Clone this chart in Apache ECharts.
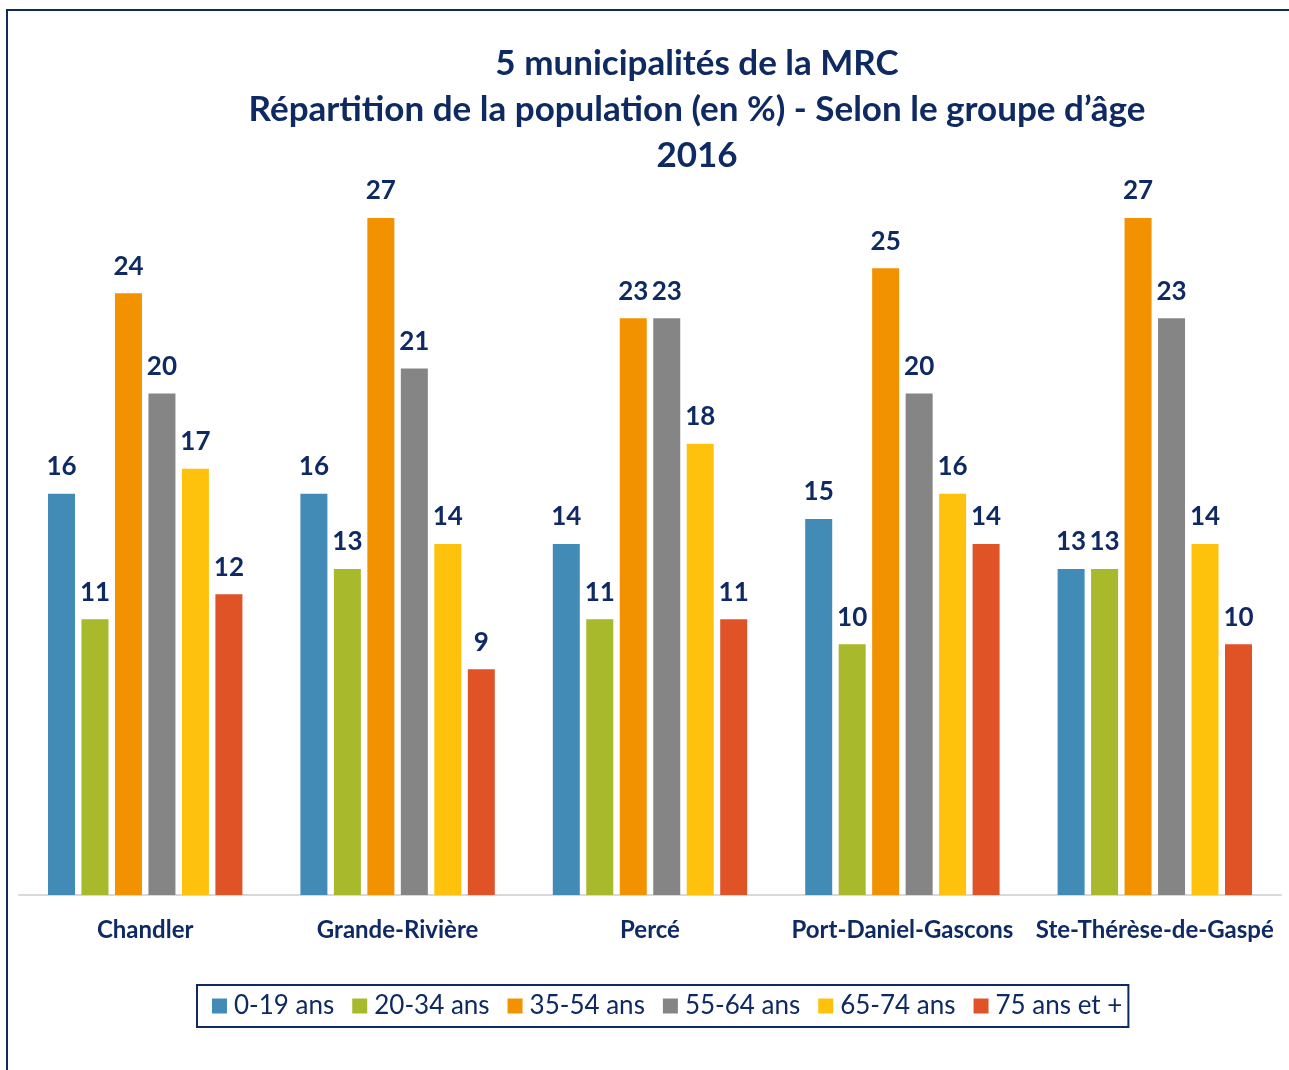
<!DOCTYPE html>
<html>
<head>
<meta charset="utf-8">
<script src="https://cdn.jsdelivr.net/npm/echarts@6/dist/echarts.min.js"></script>
<style>
  html, body { margin: 0; padding: 0; background: #fff; }
  #frame {
    position: absolute; left: 6px; top: 9px; width: 1300px; height: 1080px;
    border-left: 2px solid #0f2a63; border-top: 2px solid #0f2a63;
  }
  #chart { position: absolute; left: 0; top: 0; width: 1289px; height: 1070px; }
</style>
</head>
<body>
<div id="frame"></div>
<div id="chart"></div>
<script>
// municipalités
const categories = ['Chandler', 'Grande-Rivière', 'Percé', 'Port-Daniel-Gascons', 'Ste-Thérèse-de-Gaspé'];
// groupes d'âge
const groups = ['0-19 ans', '20-34 ans', '35-54 ans', '55-64 ans', '65-74 ans', '75 ans et +'];
const colors = ['#428bb6', '#a8b92b', '#f39200', '#858585', '#fec10c', '#e05327'];

const age0019 = [16, 16, 14, 15, 13];
const age2034 = [11, 13, 11, 10, 13];
const age3554 = [24, 27, 23, 25, 27];
const age5564 = [20, 21, 23, 20, 23];
const age6574 = [17, 14, 18, 16, 14];
const age75 = [12, 9, 11, 14, 10];

const values = [age0019, age2034, age3554, age5564, age6574, age75];
const navy = '#0f2a63';
const font = 'Lato, "Open Sans", sans-serif';

const chart = echarts.init(document.getElementById('chart'));
chart.setOption({
  animation: false,
  color: colors,
  title: {
    text: '5 municipalités de la MRC\nRépartition de la population (en %) - Selon le groupe d’âge\n2016',
    left: 697,
    top: 41,
    padding: 0,
    textAlign: 'center',
    textStyle: {
      color: navy,
      fontFamily: font,
      fontWeight: 'bold',
      fontSize: 35,
      lineHeight: 46
    }
  },
  legend: {
    data: groups,
    bottom: 43,
    left: 197,
    itemWidth: 15,
    itemHeight: 15,
    itemGap: 18,
    icon: 'rect',
    borderColor: navy,
    borderWidth: 2,
    padding: [8, 6, 8, 15],
    textStyle: { color: navy, fontFamily: font, fontSize: 26, padding: [0, 0, 0, 2] }
  },
  grid: {
    left: 19,
    right: 8,
    top: 193,
    bottom: 175,
    containLabel: false
  },
  xAxis: {
    type: 'category',
    data: categories,
    axisTick: { show: false },
    axisLine: { lineStyle: { color: '#d9d9d9', width: 2 } },
    axisLabel: {
      color: navy,
      fontFamily: font,
      fontWeight: 'bold',
      fontSize: 24,
      margin: 23,
      interval: 0
    }
  },
  yAxis: {
    type: 'value',
    min: 0,
    max: 28,
    show: false
  },
  series: groups.map((name, i) => ({
    name: name,
    type: 'bar',
    data: values[i],
    barWidth: 27,
    barGap: '24%',
    label: {
      show: true,
      position: 'top',
      distance: 14,
      color: navy,
      fontFamily: font,
      fontWeight: 'bold',
      fontSize: 26
    }
  }))
});
</script>
</body>
</html>
